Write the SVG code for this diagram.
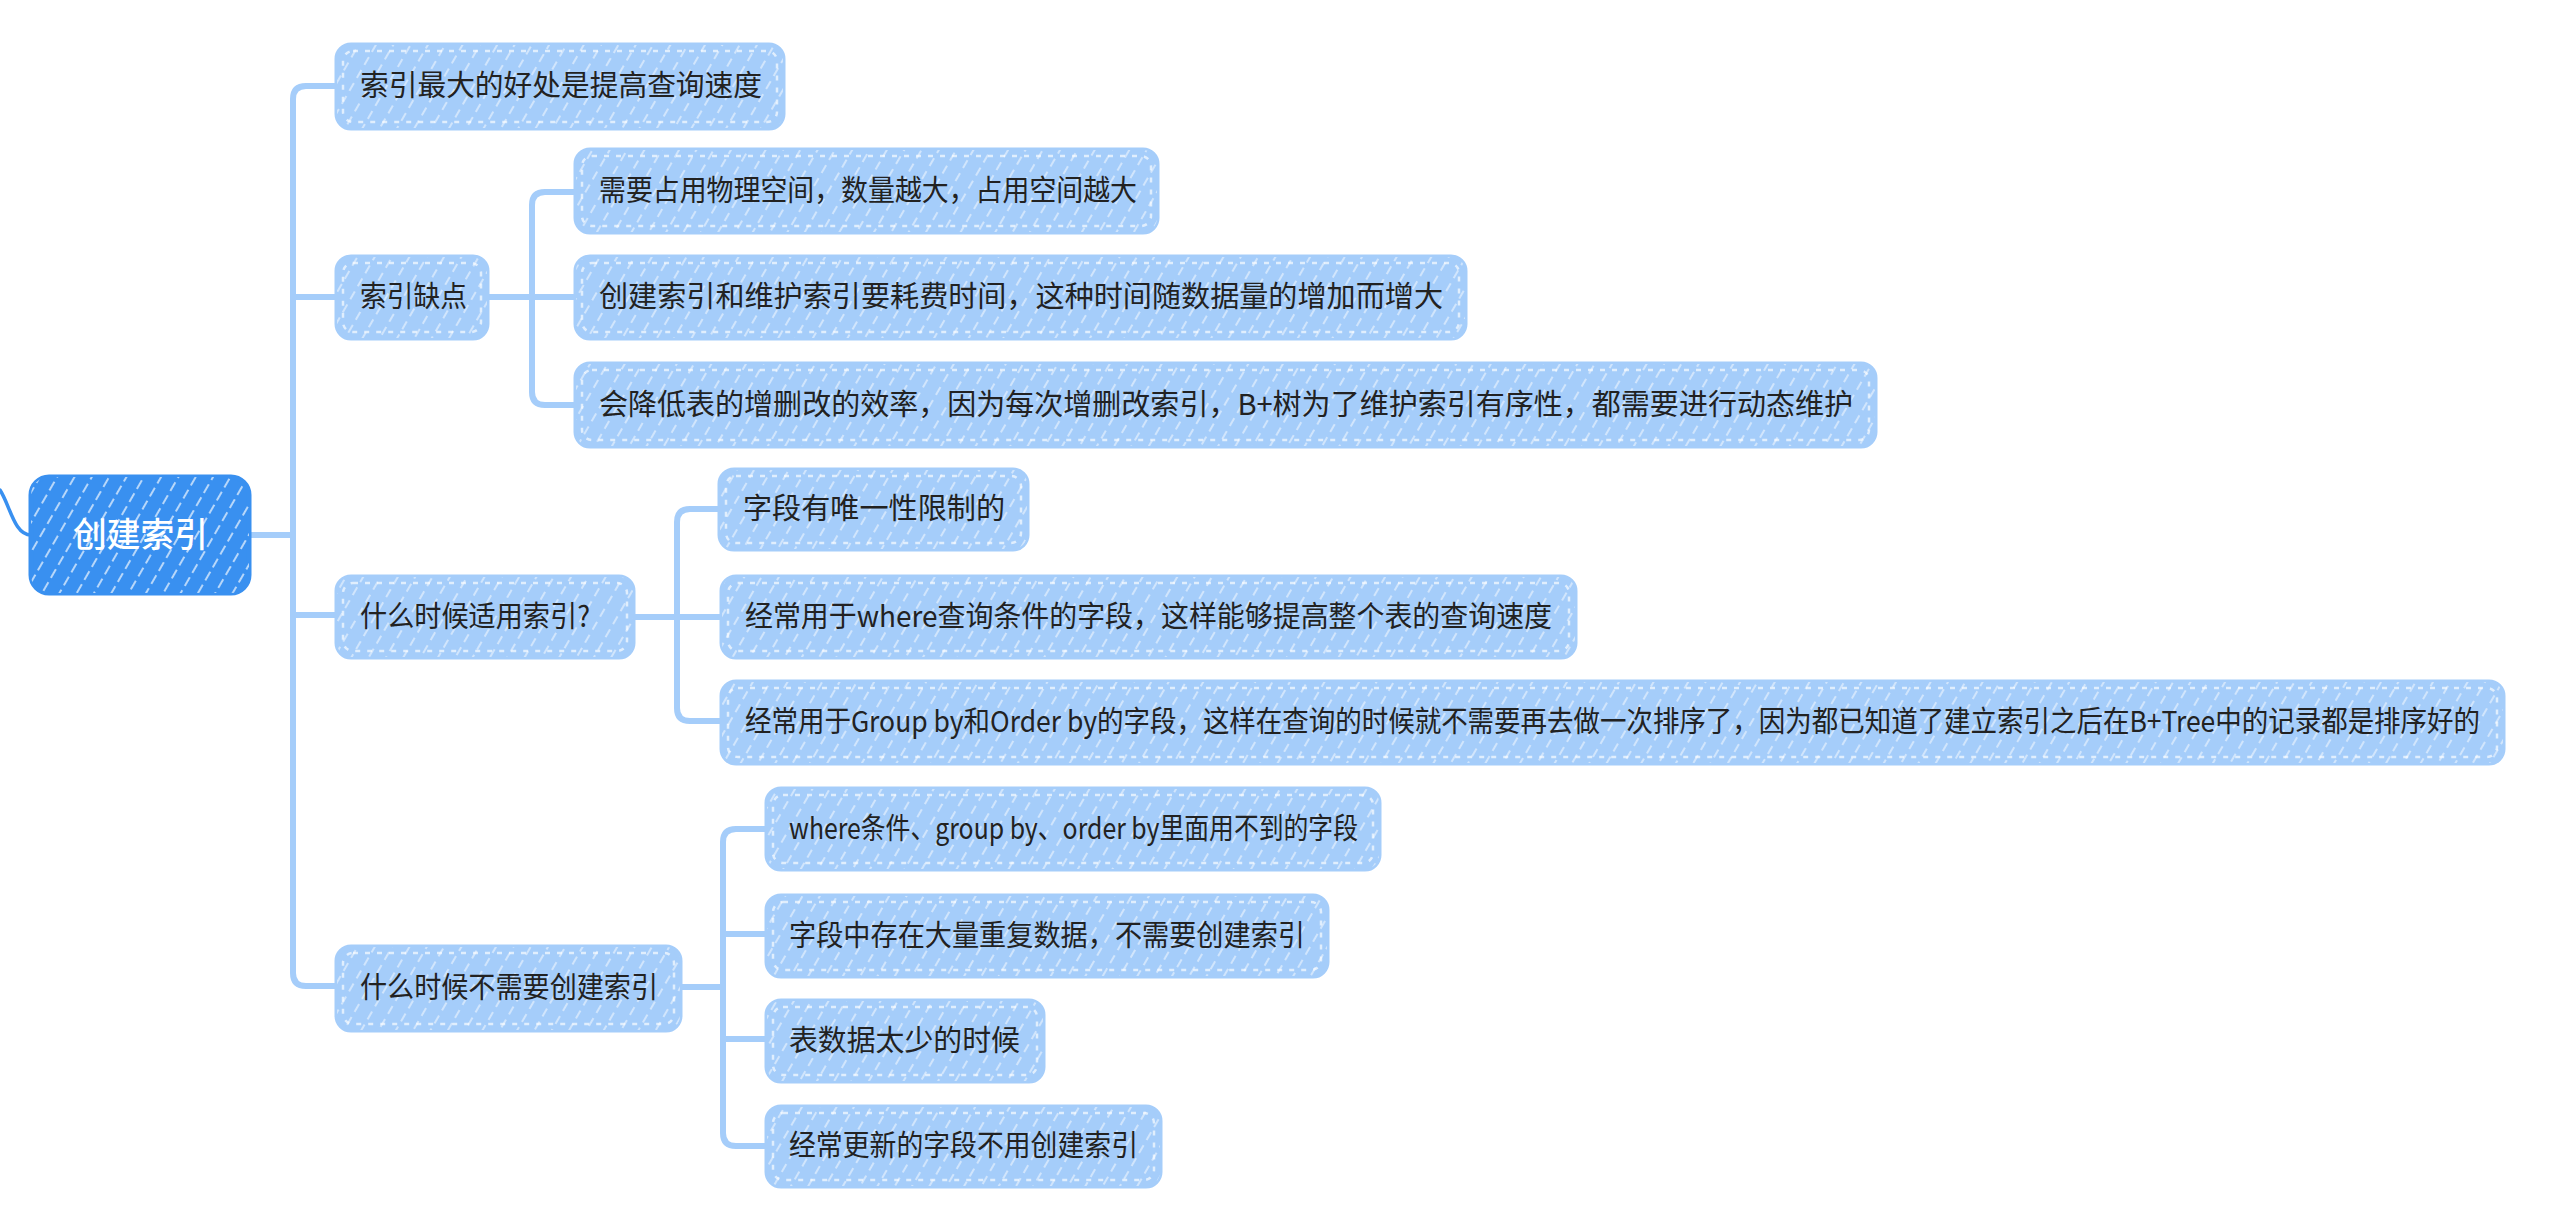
<svg xmlns="http://www.w3.org/2000/svg" width="2575" height="1214" viewBox="0 0 2575 1214">
<defs>
<pattern id="hatchL" patternUnits="userSpaceOnUse" width="15" height="15" patternTransform="rotate(30)">
<line x1="3" y1="0" x2="3" y2="9" stroke="#ffffff" stroke-width="1.3" stroke-opacity="0.75"/>
</pattern>
<pattern id="hatchD" patternUnits="userSpaceOnUse" width="15" height="15" patternTransform="rotate(30)">
<line x1="3" y1="0" x2="3" y2="10" stroke="#ffffff" stroke-width="1.5" stroke-opacity="0.85"/>
</pattern>
</defs>
<style>
.bg{fill:#a5cdfa;stroke:#a5cdfa;stroke-width:5;}
.hatch{fill:url(#hatchL);}
.edge{fill:none;stroke:#ffffff;stroke-width:2.5;stroke-dasharray:5 7;stroke-opacity:0.65;}
.t{font-family:"Noto Sans CJK SC","Noto Sans",sans-serif;font-size:29px;fill:#222222;}
.rootbg{fill:#3990f0;stroke:#3990f0;stroke-width:5;}
.roothatch{fill:url(#hatchD);}
.rt{font-family:"Noto Sans CJK SC","Noto Sans",sans-serif;font-size:34px;font-weight:500;fill:#ffffff;}
.conn path{fill:none;stroke:#a5cdfa;stroke-width:6;stroke-linecap:round;stroke-linejoin:round;}
</style>
<rect width="2575" height="1214" fill="#ffffff"/>

<g id="connectors" class="conn">
<path d="M0,490 C10,505 14,535 31,535" style="stroke:#3990f0;stroke-width:3.5"/>
<path d="M249,535 H293"/>
<path d="M337,86 H306 Q293,86 293,99 V973 Q293,986 306,986 H337"/>
<path d="M293,297 H337"/>
<path d="M293,615 H337"/>
<path d="M487,297 H532"/>
<path d="M576,192 H545 Q532,192 532,205 V392 Q532,405 545,405 H576"/>
<path d="M532,297 H576"/>
<path d="M633,617 H677"/>
<path d="M720,509 H690 Q677,509 677,522 V708 Q677,721 690,721 H722"/>
<path d="M677,617 H722"/>
<path d="M680,987 H723"/>
<path d="M767,829 H736 Q723,829 723,842 V1133 Q723,1146 736,1146 H767"/>
<path d="M723,934 H767"/>
<path d="M723,1039 H767"/>
</g>

<g id="root">
<rect class="rootbg" x="31" y="477" width="218" height="116" rx="18"/>
<rect class="roothatch" x="31" y="477" width="218" height="116" rx="18"/>
<text class="rt" x="73" y="547" textLength="135" lengthAdjust="spacingAndGlyphs">创建索引</text>
</g>

<g id="n1">
<rect class="bg" x="337" y="45" width="446" height="83" rx="14"/>
<rect class="hatch" x="337" y="45" width="446" height="83" rx="14"/>
<rect class="edge" x="343" y="51" width="434" height="71" rx="10"/>
<text class="t" x="360" y="96" textLength="402" lengthAdjust="spacingAndGlyphs">索引最大的好处是提高查询速度</text>
</g>

<g id="n2">
<rect class="bg" x="337" y="257" width="150" height="81" rx="14"/>
<rect class="hatch" x="337" y="257" width="150" height="81" rx="14"/>
<rect class="edge" x="343" y="263" width="138" height="69" rx="10"/>
<text class="t" x="360" y="307" textLength="107" lengthAdjust="spacingAndGlyphs">索引缺点</text>
</g>

<g id="n3">
<rect class="bg" x="337" y="577" width="296" height="80" rx="14"/>
<rect class="hatch" x="337" y="577" width="296" height="80" rx="14"/>
<rect class="edge" x="343" y="583" width="284" height="68" rx="10"/>
<text class="t" x="360" y="627" textLength="230" lengthAdjust="spacingAndGlyphs">什么时候适用索引?</text>
</g>

<g id="n4">
<rect class="bg" x="337" y="947" width="343" height="83" rx="14"/>
<rect class="hatch" x="337" y="947" width="343" height="83" rx="14"/>
<rect class="edge" x="343" y="953" width="331" height="71" rx="10"/>
<text class="t" x="360" y="998" textLength="298" lengthAdjust="spacingAndGlyphs">什么时候不需要创建索引</text>
</g>

<g id="c1">
<rect class="bg" x="576" y="150" width="581" height="82" rx="14"/>
<rect class="hatch" x="576" y="150" width="581" height="82" rx="14"/>
<rect class="edge" x="582" y="156" width="569" height="70" rx="10"/>
<text class="t" x="599" y="201" textLength="538" lengthAdjust="spacingAndGlyphs">需要占用物理空间，数量越大，占用空间越大</text>
</g>

<g id="c2">
<rect class="bg" x="576" y="257" width="889" height="81" rx="14"/>
<rect class="hatch" x="576" y="257" width="889" height="81" rx="14"/>
<rect class="edge" x="582" y="263" width="877" height="69" rx="10"/>
<text class="t" x="599" y="307" textLength="844" lengthAdjust="spacingAndGlyphs">创建索引和维护索引要耗费时间，这种时间随数据量的增加而增大</text>
</g>

<g id="c3">
<rect class="bg" x="576" y="364" width="1299" height="82" rx="14"/>
<rect class="hatch" x="576" y="364" width="1299" height="82" rx="14"/>
<rect class="edge" x="582" y="370" width="1287" height="70" rx="10"/>
<text class="t" x="599" y="415" textLength="1254" lengthAdjust="spacingAndGlyphs">会降低表的增删改的效率，因为每次增删改索引，B+树为了维护索引有序性，都需要进行动态维护</text>
</g>

<g id="c4">
<rect class="bg" x="720" y="470" width="307" height="79" rx="14"/>
<rect class="hatch" x="720" y="470" width="307" height="79" rx="14"/>
<rect class="edge" x="726" y="476" width="295" height="67" rx="10"/>
<text class="t" x="743" y="519" textLength="262" lengthAdjust="spacingAndGlyphs">字段有唯一性限制的</text>
</g>

<g id="c5">
<rect class="bg" x="722" y="577" width="853" height="80" rx="14"/>
<rect class="hatch" x="722" y="577" width="853" height="80" rx="14"/>
<rect class="edge" x="728" y="583" width="841" height="68" rx="10"/>
<text class="t" x="745" y="627" textLength="807" lengthAdjust="spacingAndGlyphs">经常用于where查询条件的字段，这样能够提高整个表的查询速度</text>
</g>

<g id="c6">
<rect class="bg" x="722" y="682" width="1781" height="81" rx="14"/>
<rect class="hatch" x="722" y="682" width="1781" height="81" rx="14"/>
<rect class="edge" x="728" y="688" width="1769" height="69" rx="10"/>
<text class="t" x="745" y="732" textLength="1735" lengthAdjust="spacingAndGlyphs">经常用于Group by和Order by的字段，这样在查询的时候就不需要再去做一次排序了，因为都已知道了建立索引之后在B+Tree中的记录都是排序好的</text>
</g>

<g id="c7">
<rect class="bg" x="767" y="789" width="612" height="80" rx="14"/>
<rect class="hatch" x="767" y="789" width="612" height="80" rx="14"/>
<rect class="edge" x="773" y="795" width="600" height="68" rx="10"/>
<text class="t" x="789" y="839" textLength="569" lengthAdjust="spacingAndGlyphs">where条件、group by、order by里面用不到的字段</text>
</g>

<g id="c8">
<rect class="bg" x="767" y="896" width="560" height="80" rx="14"/>
<rect class="hatch" x="767" y="896" width="560" height="80" rx="14"/>
<rect class="edge" x="773" y="902" width="548" height="68" rx="10"/>
<text class="t" x="789" y="946" textLength="516" lengthAdjust="spacingAndGlyphs">字段中存在大量重复数据，不需要创建索引</text>
</g>

<g id="c9">
<rect class="bg" x="767" y="1001" width="276" height="80" rx="14"/>
<rect class="hatch" x="767" y="1001" width="276" height="80" rx="14"/>
<rect class="edge" x="773" y="1007" width="264" height="68" rx="10"/>
<text class="t" x="789" y="1051" textLength="231" lengthAdjust="spacingAndGlyphs">表数据太少的时候</text>
</g>

<g id="c10">
<rect class="bg" x="767" y="1107" width="393" height="79" rx="14"/>
<rect class="hatch" x="767" y="1107" width="393" height="79" rx="14"/>
<rect class="edge" x="773" y="1113" width="381" height="67" rx="10"/>
<text class="t" x="789" y="1156" textLength="349" lengthAdjust="spacingAndGlyphs">经常更新的字段不用创建索引</text>
</g>
</svg>
